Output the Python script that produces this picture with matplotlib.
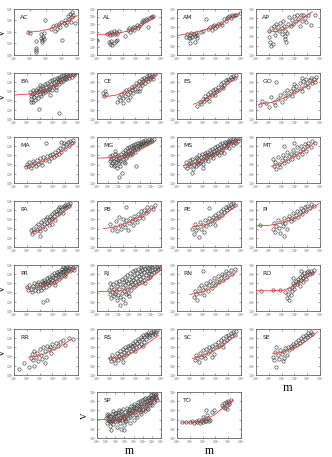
import numpy as np
import matplotlib
matplotlib.use("Agg")
import matplotlib.pyplot as plt
import matplotlib.ticker as mtick

# all values are log10(m), log10(V)
states = ["AC", "AL", "AM", "AP", "BA", "CE", "ES", "GO", "MA", "MG", "MS", "MT",
          "PA", "PB", "PE", "PI", "PR", "RJ", "RN", "RO", "RR", "RS", "SC", "SE",
          "SP", "TO"]

# decades shown on each axis (x, y)
x_decades = {"AL": 5, "AC": 4, "MG": 6, "RJ": 6, "SP": 7}
y_decades = {"AC": 4, "AL": 6}

ac_pts = [(1.0, 1.9), (0.9, 2.0), (1.4, 1.2), (1.4, 0.6), (1.4, 0.3), (1.35, 0.45), (1.7, 1.5), (1.75, 1.3),
          (1.8, 1.6), (1.85, 1.4), (1.7, 1.8), (1.9, 1.9), (1.75, 1.1), (1.95, 3.05), (2.3, 2.3), (2.45, 2.5),
          (2.55, 2.1), (2.6, 2.6), (2.7, 2.3), (2.8, 2.7), (2.9, 2.4), (3.0, 1.3), (3.1, 2.8), (3.2, 3.0),
          (3.3, 2.9), (3.35, 3.4), (3.45, 3.1), (3.5, 3.6), (3.6, 3.3), (3.65, 3.7), (3.7, 3.5), (3.8, 2.8),
          (3.55, 2.9), (3.25, 2.6), (2.95, 2.9)]
ac_fit_m = [0.9, 1.5, 2.2, 2.8, 3.4, 3.95]
ac_fit_v = [2.0, 2.05, 2.25, 2.6, 3.0, 3.42]

al_pts = [(0, 1.9), (0.8, 2.7), (0.9, 2.9), (1.0, 2.6), (1.1, 3.0), (1.2, 2.8), (1.3, 3.1), (1.4, 2.7), (1.5, 3.0),
          (1.6, 2.8), (1.7, 3.1), (0.9, 1.7), (1.0, 1.4), (1.1, 1.8), (1.2, 1.3), (1.3, 1.6), (1.5, 1.8), (1.6, 2.0),
          (2.2, 2.5), (2.4, 3.2), (2.5, 3.5), (2.6, 3.0), (2.7, 3.4), (2.8, 3.7), (2.9, 3.3), (3.0, 3.6), (3.1, 3.9),
          (3.2, 3.5), (3.3, 3.8), (3.4, 4.0), (3.5, 4.3), (3.6, 4.5), (3.7, 4.4), (3.8, 4.7), (3.9, 4.6), (4.0, 3.6),
          (4.1, 4.8), (4.2, 5.0), (4.3, 4.9), (4.4, 5.1)]
al_fit_m = [0, 1.2, 2.5, 3.5, 4.4]
al_fit_v = [2.7, 2.7, 3.15, 3.9, 4.9]

am_pts = [(0.7, 2.0), (0.8, 2.3), (0.9, 1.9), (1.0, 2.2), (1.05, 1.8), (1.1, 2.4), (1.2, 2.0), (1.3, 2.3), (1.4, 2.1),
          (1.5, 2.4), (1.55, 1.9), (1.0, 1.3), (1.4, 1.4), (1.6, 2.2), (1.9, 2.5), (2.0, 2.6), (2.24, 3.9), (2.4, 2.8),
          (2.6, 3.0), (2.7, 2.7), (2.8, 3.1), (2.9, 3.3), (3.0, 2.9), (3.1, 3.2), (3.2, 3.4), (3.4, 3.5), (3.5, 3.3),
          (3.7, 3.9), (3.8, 3.7), (3.9, 4.0), (4.0, 4.1), (4.1, 4.2), (4.2, 4.0), (4.3, 4.3), (4.4, 4.2), (4.5, 4.4),
          (4.6, 4.3), (4.9, 4.6)]
am_fit_m = [0, 1.2, 2.5, 3.8, 4.9]
am_fit_v = [2.1, 2.4, 2.85, 3.7, 4.55]

ap_pts = [(1.0, 2.6), (1.05, 2.0), (1.1, 1.4), (1.2, 1.0), (1.3, 1.2), (1.2, 2.9), (1.4, 3.2), (1.5, 2.7), (1.6, 3.4),
          (1.7, 3.0), (1.8, 2.6), (1.9, 3.5), (2.0, 2.9), (2.1, 3.7), (2.2, 3.2), (2.3, 2.6), (2.25, 1.7), (2.3, 2.1),
          (2.35, 1.4), (2.4, 2.4), (2.5, 3.4), (2.6, 4.1), (2.7, 3.1), (2.8, 3.8), (2.9, 3.4), (3.0, 4.2), (3.1, 3.7),
          (3.2, 4.4), (3.3, 3.9), (3.4, 3.2), (3.5, 4.3), (3.6, 3.7), (3.7, 4.4), (3.8, 4.0), (3.9, 3.6), (4.1, 4.3),
          (4.3, 3.3), (4.6, 4.4), (1.5, 2.2), (2.0, 2.3)]
ap_fit_m = [1.0, 1.8, 2.3, 2.8, 3.3, 3.8, 4.4]
ap_fit_v = [2.5, 2.6, 2.85, 3.2, 3.7, 4.15, 4.7]

ba_pts = [(1.25, 2.9), (1.3, 2.5), (1.35, 2.2), (1.3, 1.9), (1.4, 2.7), (1.5, 3.1), (1.55, 2.4), (1.6, 2.8),
          (1.65, 2.1), (1.7, 3.2), (1.75, 2.6), (1.8, 2.9), (1.85, 3.4), (1.9, 2.3), (1.95, 3.0), (2.0, 2.7),
          (2.05, 3.3), (2.1, 2.5), (2.15, 3.6), (2.2, 3.0), (2.25, 2.8), (2.3, 3.4), (2.35, 3.1), (2.4, 3.8),
          (2.45, 2.9), (2.5, 3.5), (2.55, 3.2), (2.6, 3.9), (2.65, 3.0), (2.7, 3.6), (2.75, 3.3), (2.8, 4.1),
          (2.85, 3.5), (2.9, 3.8), (2.95, 3.2), (3.0, 4.2), (3.05, 3.6), (3.1, 3.9), (3.15, 4.4), (3.2, 3.7),
          (3.25, 4.1), (3.3, 3.5), (3.35, 4.5), (3.4, 4.0), (3.45, 4.3), (3.5, 3.8), (3.55, 4.6), (3.6, 4.2),
          (3.65, 4.0), (3.7, 4.7), (3.75, 4.4), (3.8, 4.1), (3.85, 4.8), (3.9, 4.5), (3.95, 4.3), (4.0, 4.9),
          (4.05, 4.6), (4.1, 4.4), (4.15, 4.85), (4.2, 4.7), (4.3, 4.5), (4.35, 4.95), (4.4, 4.75), (4.5, 4.6),
          (4.6, 4.9), (4.7, 4.8), (4.8, 4.95), (1.95, 1.1), (3.5, 0.7), (2.0, 3.7), (2.8, 2.6), (3.3, 3.2),
          (1.5, 1.8)]
ba_fit_m = [0, 1.5, 2.2, 3.0, 3.8, 4.85]
ba_fit_v = [2.6, 2.75, 3.0, 3.5, 4.15, 5.0]

ce_pts = [(0.5, 2.8), (0.6, 3.0), (0.7, 2.7), (0.55, 2.5), (1.6, 1.9), (1.7, 2.4), (1.8, 2.1), (1.9, 2.7), (2.0, 2.3),
          (2.1, 2.9), (2.2, 2.5), (2.3, 3.1), (2.4, 2.7), (2.5, 3.3), (2.55, 2.9), (2.6, 2.4), (2.7, 3.5), (2.75, 3.1),
          (2.8, 2.8), (2.9, 3.6), (3.0, 3.3), (3.05, 3.9), (3.1, 3.0), (3.2, 3.7), (3.3, 4.1), (3.35, 3.4), (3.4, 3.9),
          (3.5, 4.3), (3.55, 3.7), (3.6, 4.1), (3.7, 4.5), (3.75, 3.9), (3.8, 4.3), (3.9, 4.7), (3.95, 4.1), (4.0, 4.5),
          (4.1, 4.8), (4.15, 4.3), (4.2, 4.6), (4.3, 4.9), (4.4, 4.7), (4.5, 4.85), (2.0, 1.7), (2.4, 2.1), (3.3, 3.0),
          (4.35, 4.4)]
ce_fit_m = [0.5, 1.5, 2.5, 3.5, 4.7]
ce_fit_v = [2.4, 2.6, 3.1, 3.9, 4.9]

es_pts = [(1.6, 1.4), (1.8, 1.9), (1.9, 1.6), (2.0, 2.2), (2.1, 2.0), (2.2, 2.5), (2.3, 2.2), (2.4, 2.7), (2.5, 2.4),
          (2.6, 2.9), (2.7, 2.6), (2.8, 3.1), (2.9, 2.8), (3.0, 3.3), (3.1, 3.0), (3.2, 3.5), (3.3, 3.2), (3.4, 3.8),
          (3.5, 3.5), (3.6, 4.0), (3.7, 3.7), (3.8, 4.2), (3.9, 4.0), (4.0, 4.4), (4.1, 4.2), (4.2, 4.6), (4.3, 4.4),
          (4.4, 4.7), (4.5, 4.5), (4.6, 4.8), (2.5, 2.0), (3.0, 2.6), (3.6, 3.4)]
es_fit_m = [1.3, 2.2, 3.0, 3.8, 4.7]
es_fit_v = [1.6, 2.1, 2.8, 3.6, 4.6]

go_pts = [(0.3, 1.5), (0.5, 2.0), (0.8, 1.7), (1.0, 1.3), (1.2, 2.4), (1.4, 1.9), (1.5, 1.5), (1.6, 4.0), (1.7, 2.2),
          (1.9, 2.6), (2.0, 1.9), (2.2, 2.8), (2.3, 2.3), (2.4, 3.1), (2.5, 2.6), (2.7, 3.0), (2.8, 2.5), (2.9, 3.4),
          (3.0, 2.9), (3.1, 3.6), (3.2, 3.1), (3.4, 3.9), (3.5, 3.4), (3.6, 3.0), (3.7, 4.1), (3.8, 3.7), (3.9, 4.4),
          (4.0, 3.9), (4.1, 3.5), (4.2, 4.2), (4.3, 4.5), (4.4, 3.9), (4.5, 4.3), (4.6, 4.0), (4.7, 4.6), (3.0, 3.8),
          (3.6, 4.5)]
go_fit_m = [0.2, 1.2, 2.2, 3.2, 4.2, 4.8]
go_fit_v = [1.6, 1.8, 2.3, 3.0, 3.8, 4.3]

ma_pts = [(0.9, 1.7), (1.0, 2.1), (1.1, 1.9), (1.2, 2.3), (1.3, 1.6), (1.4, 2.0), (1.5, 2.4), (1.6, 2.2), (1.7, 1.8),
          (1.8, 2.5), (1.9, 2.1), (2.0, 2.7), (2.1, 2.3), (2.2, 2.0), (2.3, 2.8), (2.4, 2.5), (2.5, 4.4), (2.6, 2.9),
          (2.7, 2.4), (2.8, 3.0), (2.9, 2.7), (3.0, 3.2), (3.1, 2.8), (3.2, 3.4), (3.3, 3.0), (3.4, 3.6), (3.5, 3.2),
          (3.6, 3.8), (3.7, 3.4), (3.8, 4.0), (3.9, 4.4), (4.0, 3.7), (4.1, 4.2), (4.2, 4.5), (4.3, 4.0), (4.4, 4.6),
          (4.5, 4.3), (4.6, 4.7), (3.7, 4.5)]
ma_fit_m = [0.8, 1.8, 2.8, 3.8, 4.8]
ma_fit_v = [1.8, 2.1, 2.7, 3.5, 4.4]

mg_pts = [(1.2, 2.9), (1.25, 2.4), (1.3, 2.0), (1.35, 2.6), (1.4, 3.0), (1.45, 2.2), (1.5, 2.7), (1.55, 1.8),
          (1.6, 2.4), (1.65, 3.1), (1.7, 2.0), (1.75, 2.6), (1.8, 2.3), (1.85, 2.9), (1.9, 1.6), (1.95, 2.5),
          (2.0, 3.0), (2.05, 2.2), (2.1, 2.7), (2.15, 1.9), (2.2, 2.4), (2.25, 3.2), (2.3, 2.8), (2.35, 1.1),
          (2.4, 2.6), (2.1, 0.6), (2.45, 3.4), (2.5, 2.9), (2.55, 2.3), (2.6, 3.6), (2.65, 3.1), (2.7, 2.7),
          (2.75, 3.3), (2.8, 3.8), (2.85, 2.9), (2.9, 3.5), (2.95, 3.2), (3.0, 3.9), (3.05, 3.0), (3.1, 3.6),
          (3.15, 3.3), (3.2, 4.0), (3.25, 3.5), (3.3, 3.2), (3.35, 3.8), (3.4, 4.1), (3.45, 3.6), (3.5, 3.9),
          (3.55, 3.4), (3.6, 4.2), (3.65, 3.8), (3.7, 1.8), (3.75, 4.3), (3.8, 4.0), (3.85, 3.7), (3.9, 4.4),
          (3.95, 4.1), (4.0, 3.9), (4.1, 4.5), (4.15, 4.2), (4.2, 4.0), (4.3, 4.6), (4.35, 4.3), (4.4, 4.1),
          (4.5, 4.7), (4.55, 4.4), (4.6, 4.2), (4.7, 4.6), (4.8, 4.4), (4.9, 4.75), (5.0, 4.5), (5.1, 4.7),
          (5.2, 4.6), (5.3, 4.8), (1.7, 3.5), (2.6, 2.2)]
mg_fit_m = [0, 1.2, 2.0, 2.8, 3.6, 4.4, 5.3]
mg_fit_v = [2.7, 2.75, 2.8, 3.05, 3.4, 3.9, 4.5]

ms_pts = [(0.6, 1.9), (0.7, 2.3), (0.8, 1.6), (0.9, 2.1), (1.0, 2.5), (1.05, 1.8), (1.1, 2.2), (1.2, 2.6), (1.25, 1.5),
          (1.3, 2.0), (1.4, 2.4), (1.45, 2.8), (1.5, 1.9), (1.55, 2.3), (1.6, 2.7), (1.65, 2.1), (1.7, 3.0), (1.75, 2.5),
          (1.8, 2.2), (1.85, 2.8), (1.9, 2.4), (1.95, 3.1), (2.0, 2.6), (2.05, 2.1), (2.1, 2.9), (2.15, 3.3), (2.2, 2.5),
          (2.25, 3.0), (2.3, 2.7), (2.35, 3.4), (2.4, 2.9), (2.45, 2.4), (2.5, 3.2), (2.55, 3.6), (2.6, 2.8), (2.65, 3.3),
          (2.7, 3.0), (2.75, 3.7), (2.8, 3.2), (2.85, 2.7), (2.9, 3.5), (2.95, 3.9), (3.0, 3.1), (3.05, 3.6), (3.1, 3.3),
          (3.15, 4.0), (3.2, 3.5), (3.25, 3.0), (3.3, 3.8), (3.35, 4.2), (3.4, 3.4), (3.45, 3.9), (3.5, 3.6), (3.55, 4.3),
          (3.6, 3.8), (3.65, 3.3), (3.7, 4.1), (3.75, 4.5), (3.8, 3.9), (3.85, 4.3), (3.9, 4.0), (3.95, 4.6), (4.0, 4.2),
          (4.05, 3.8), (4.1, 4.5), (4.15, 4.7), (4.2, 4.3), (4.3, 4.6), (4.35, 4.1), (4.4, 4.8), (4.5, 4.5), (4.55, 4.7),
          (4.6, 4.4), (4.7, 4.85), (4.8, 4.6), (4.85, 4.9), (1.2, 1.1), (2.0, 1.6)]
ms_fit_m = [0.5, 1.5, 2.5, 3.5, 4.85]
ms_fit_v = [1.9, 2.2, 2.8, 3.6, 4.8]

mt_pts = [(1.3, 2.6), (1.4, 1.9), (1.5, 2.3), (1.6, 1.5), (1.7, 2.8), (1.8, 2.1), (1.9, 1.7), (2.0, 2.5), (2.1, 3.0),
          (2.2, 2.2), (2.3, 2.7), (2.4, 3.4), (2.5, 2.4), (2.6, 2.9), (2.7, 3.2), (2.8, 2.6), (2.9, 3.6), (3.0, 3.0),
          (3.1, 3.3), (3.2, 3.9), (3.3, 2.8), (3.4, 3.5), (3.5, 4.0), (3.6, 3.2), (3.7, 3.7), (3.8, 4.2), (3.9, 3.5),
          (4.0, 4.0), (4.1, 4.4), (4.3, 3.9), (4.4, 4.6), (4.6, 4.3), (2.2, 4.0), (3.0, 4.3)]
mt_fit_m = [1.2, 2.0, 2.8, 3.6, 4.6]
mt_fit_v = [1.8, 2.1, 2.7, 3.4, 4.4]

pa_pts = [(1.3, 1.8), (1.4, 1.4), (1.5, 2.0), (1.6, 1.6), (1.7, 2.3), (1.8, 1.9), (1.9, 2.5), (2.0, 2.1), (2.05, 1.7),
          (2.1, 2.7), (2.2, 2.3), (2.3, 2.9), (2.35, 2.5), (2.4, 2.0), (2.5, 3.0), (2.55, 2.6), (2.6, 3.3), (2.7, 2.9),
          (2.75, 2.4), (2.8, 3.4), (2.9, 3.0), (2.95, 3.6), (3.0, 3.2), (3.1, 3.8), (3.15, 3.4), (3.2, 2.9), (3.3, 3.9),
          (3.35, 3.6), (3.4, 4.1), (3.5, 3.7), (3.55, 4.3), (3.6, 3.9), (3.7, 4.4), (3.75, 4.1), (3.8, 3.7), (3.9, 4.5),
          (3.95, 4.2), (4.0, 4.6), (4.1, 4.4), (4.2, 4.7), (4.3, 4.5), (4.4, 4.8), (2.0, 1.2), (3.0, 2.5)]
pa_fit_m = [1.3, 2.2, 3.0, 3.8, 4.5]
pa_fit_v = [1.5, 2.0, 2.8, 3.7, 4.5]

pb_pts = [(1.0, 2.5), (1.2, 1.9), (1.4, 2.2), (1.5, 2.8), (1.6, 1.7), (1.8, 2.4), (1.9, 2.0), (2.0, 3.0), (2.1, 2.5),
          (2.2, 2.2), (2.3, 2.9), (2.4, 1.9), (2.5, 2.6), (2.6, 3.2), (2.7, 2.8), (2.8, 2.4), (2.9, 3.4), (3.0, 3.0),
          (3.1, 2.7), (3.2, 3.6), (3.3, 3.2), (3.4, 3.9), (3.5, 3.5), (3.6, 3.1), (3.7, 4.0), (3.8, 3.7), (3.9, 4.3),
          (4.0, 3.9), (4.2, 4.4), (4.4, 4.1), (4.5, 4.6), (2.3, 4.3), (1.7, 3.3)]
pb_fit_m = [0.5, 1.5, 2.5, 3.5, 4.5]
pb_fit_v = [2.0, 2.2, 2.7, 3.4, 4.3]

pe_pts = [(1.2, 2.0), (1.3, 1.4), (1.4, 2.5), (1.5, 1.8), (1.6, 2.2), (1.7, 1.1), (1.8, 2.7), (1.9, 2.0), (2.0, 2.4),
          (2.1, 1.6), (2.2, 2.9), (2.3, 2.3), (2.4, 2.7), (2.5, 3.1), (2.6, 2.5), (2.7, 2.9), (2.8, 3.3), (2.9, 2.8),
          (3.0, 3.5), (3.1, 3.1), (3.2, 3.7), (3.3, 3.3), (3.4, 3.9), (3.5, 3.5), (3.6, 4.1), (3.7, 3.8), (3.8, 4.3),
          (3.9, 4.0), (4.0, 4.5), (4.1, 4.2), (4.2, 4.7), (4.3, 4.4), (4.4, 4.8), (4.5, 4.6), (2.5, 4.2), (3.0, 2.4)]
pe_fit_m = [1.2, 2.2, 3.0, 3.8, 4.6]
pe_fit_v = [2.2, 2.4, 2.9, 3.6, 4.5]

pi_pts = [(0.3, 2.4), (1.3, 2.0), (1.4, 2.6), (1.5, 1.6), (1.6, 2.3), (1.7, 2.9), (1.8, 2.1), (1.9, 1.5), (2.0, 2.7),
          (2.1, 2.3), (2.2, 3.1), (2.3, 2.6), (2.4, 2.0), (2.5, 3.0), (2.6, 3.4), (2.7, 2.8), (2.8, 3.2), (2.9, 3.7),
          (3.0, 3.0), (3.1, 3.5), (3.2, 3.9), (3.3, 3.3), (3.4, 3.8), (3.5, 4.2), (3.6, 3.6), (3.7, 4.0), (3.8, 4.4),
          (3.9, 3.9), (4.0, 4.5), (4.2, 4.2), (4.3, 4.7), (4.5, 4.5), (2.2, 1.2)]
pi_fit_m = [0, 1.0, 2.0, 3.0, 4.0, 4.9]
pi_fit_v = [2.3, 2.35, 2.6, 3.1, 3.9, 4.7]

pr_pts = [(1.0, 2.6), (1.1, 2.3), (1.2, 2.8), (1.3, 2.4), (1.4, 2.1), (1.5, 2.7), (1.6, 3.0), (1.65, 2.3), (1.7, 2.6),
          (1.8, 2.9), (1.85, 2.2), (1.9, 3.2), (2.0, 2.6), (2.05, 2.9), (2.1, 2.3), (2.15, 3.3), (2.2, 2.8), (2.25, 3.0),
          (2.3, 2.5), (2.35, 3.4), (2.4, 2.9), (2.45, 3.1), (2.5, 2.6), (2.55, 3.6), (2.6, 3.0), (2.65, 3.3), (2.7, 2.8),
          (2.75, 3.7), (2.8, 3.2), (2.85, 3.5), (2.9, 3.0), (2.95, 3.9), (3.0, 3.4), (3.05, 3.7), (3.1, 3.1), (3.15, 4.1),
          (3.2, 3.6), (3.25, 3.9), (3.3, 3.3), (3.35, 4.2), (3.4, 3.8), (3.45, 4.0), (3.5, 3.5), (3.55, 4.4), (3.6, 4.0),
          (3.65, 4.2), (3.7, 3.7), (3.75, 4.6), (3.8, 4.2), (3.85, 4.4), (3.9, 3.9), (3.95, 4.7), (4.0, 4.3), (4.05, 4.6),
          (4.1, 4.1), (4.15, 4.8), (4.2, 4.5), (4.3, 4.7), (4.35, 4.3), (4.4, 4.9), (4.5, 4.6), (4.6, 4.8), (4.7, 4.5),
          (4.8, 4.9), (2.25, 1.0), (2.6, 1.2), (3.2, 2.8), (4.0, 3.8), (3.8, 4.8)]
pr_fit_m = [1.0, 2.0, 2.8, 3.6, 4.3, 4.8]
pr_fit_v = [2.5, 2.55, 2.9, 3.5, 4.2, 4.65]

rj_pts = [(1.1, 2.3), (1.2, 1.8), (1.3, 2.6), (1.35, 1.4), (1.4, 2.1), (1.5, 2.9), (1.55, 1.6), (1.6, 2.4), (1.7, 1.9),
          (1.75, 3.1), (1.8, 2.2), (1.85, 1.2), (1.9, 2.7), (2.0, 1.7), (2.05, 3.3), (2.1, 2.4), (2.15, 1.5), (2.2, 2.9),
          (2.3, 2.0), (2.35, 3.5), (2.4, 2.6), (2.45, 1.3), (2.5, 3.1), (2.55, 2.2), (2.6, 3.7), (2.65, 2.8), (2.7, 1.8),
          (2.75, 3.3), (2.8, 2.4), (2.85, 3.9), (2.9, 3.0), (2.95, 2.0), (3.0, 3.5), (3.05, 2.7), (3.1, 4.1), (3.15, 3.2),
          (3.2, 2.3), (3.25, 3.7), (3.3, 2.9), (3.35, 4.3), (3.4, 3.4), (3.45, 2.6), (3.5, 3.9), (3.55, 3.1), (3.6, 4.5),
          (3.65, 3.6), (3.7, 2.8), (3.75, 4.1), (3.8, 3.3), (3.85, 4.6), (3.9, 3.8), (3.95, 3.0), (4.0, 4.3), (4.05, 3.5),
          (4.1, 4.8), (4.15, 4.0), (4.2, 3.2), (4.25, 4.5), (4.3, 3.7), (4.35, 4.9), (4.4, 4.2), (4.45, 3.4), (4.5, 4.6),
          (4.6, 3.9), (4.65, 4.8), (4.7, 4.3), (4.75, 3.6), (4.8, 4.7), (4.9, 4.1), (4.95, 4.85), (5.0, 4.4), (5.1, 4.0),
          (5.15, 4.8), (5.2, 4.5), (5.3, 4.2), (5.35, 4.9), (5.4, 4.6), (5.5, 4.4), (5.6, 4.8), (5.7, 4.6), (5.8, 4.9),
          (5.9, 4.7), (1.2, 3.0), (2.2, 0.7), (2.6, 0.9), (3.0, 1.6), (4.5, 3.0), (5.0, 3.7)]
rj_fit_m = [0, 1.2, 2.3, 3.0, 3.9, 4.8, 6.0]
rj_fit_v = [2.1, 2.15, 2.2, 2.45, 2.8, 3.4, 4.45]

rn_pts = [(1.3, 1.5), (1.4, 2.2), (1.5, 1.8), (1.6, 1.2), (1.7, 2.5), (1.8, 2.0), (1.9, 2.8), (2.0, 2.3), (2.1, 1.7),
          (2.2, 2.6), (2.3, 3.0), (2.4, 2.2), (2.5, 2.8), (2.6, 3.3), (2.7, 2.5), (2.8, 3.0), (2.9, 3.6), (3.0, 2.8),
          (3.1, 3.3), (3.2, 3.8), (3.3, 3.1), (3.4, 3.6), (3.5, 4.0), (3.6, 3.4), (3.7, 3.9), (3.8, 4.3), (3.9, 3.7),
          (4.0, 4.1), (4.2, 4.5), (4.3, 4.0), (4.5, 4.6), (2.0, 4.3)]
rn_fit_m = [1.0, 2.0, 3.0, 4.0, 4.7]
rn_fit_v = [1.8, 2.1, 2.7, 3.6, 4.3]

ro_pts = [(0.4, 2.2), (1.3, 2.25), (1.9, 2.3), (2.3, 2.1), (2.4, 1.4), (2.5, 1.9), (2.6, 1.2), (2.55, 2.4), (2.7, 1.7),
          (2.8, 2.6), (2.85, 2.2), (2.9, 3.0), (3.0, 2.4), (3.0, 2.8), (3.1, 3.3), (3.2, 2.9), (3.25, 3.5), (3.3, 3.1),
          (3.4, 3.7), (3.4, 2.7), (3.5, 3.4), (3.6, 3.9), (3.65, 3.2), (3.7, 3.6), (3.75, 4.1), (3.8, 3.8), (3.9, 3.5),
          (3.95, 4.2), (4.0, 3.9), (4.1, 4.3), (4.2, 4.0), (4.3, 4.4), (4.4, 4.1), (4.5, 4.5), (3.5, 4.4), (2.9, 3.6)]
ro_fit_m = [0, 1.0, 2.1, 2.8, 3.5, 4.1, 4.6]
ro_fit_v = [2.2, 2.2, 2.25, 2.6, 3.2, 3.8, 4.2]

rr_pts = [(0.4, 0.6), (0.8, 1.3), (1.2, 0.9), (1.3, 1.9), (1.4, 2.3), (1.5, 1.6), (1.6, 2.6), (1.7, 2.0), (1.8, 2.4),
          (1.9, 1.5), (2.0, 2.8), (2.1, 2.2), (2.2, 1.7), (2.3, 3.0), (2.4, 2.6), (2.5, 2.0), (2.6, 3.2), (2.7, 2.8),
          (2.8, 3.0), (2.9, 2.4), (3.0, 3.4), (3.1, 2.9), (3.3, 3.5), (3.4, 3.1), (3.6, 3.6), (3.8, 3.8), (4.0, 3.3),
          (4.3, 4.0), (4.6, 3.9), (1.6, 1.0), (2.4, 1.3)]
rr_fit_m = [1.1, 1.8, 2.4, 3.0, 3.6, 4.5]
rr_fit_v = [1.95, 2.05, 2.3, 2.7, 3.1, 3.9]

rs_pts = [(1.0, 1.9), (1.1, 1.5), (1.2, 2.2), (1.3, 1.7), (1.4, 1.3), (1.5, 2.0), (1.6, 2.4), (1.65, 1.6), (1.7, 2.1),
          (1.8, 2.6), (1.85, 1.8), (1.9, 2.3), (2.0, 2.8), (2.05, 2.0), (2.1, 2.5), (2.2, 3.0), (2.25, 2.2), (2.3, 2.7),
          (2.4, 3.1), (2.45, 2.4), (2.5, 2.9), (2.6, 3.3), (2.65, 2.6), (2.7, 3.1), (2.8, 3.5), (2.85, 2.8), (2.9, 3.3),
          (3.0, 3.7), (3.05, 3.0), (3.1, 3.5), (3.2, 3.9), (3.25, 3.2), (3.3, 3.7), (3.4, 4.1), (3.45, 3.4), (3.5, 3.9),
          (3.6, 4.3), (3.65, 3.6), (3.7, 4.1), (3.8, 4.5), (3.85, 3.9), (3.9, 4.3), (4.0, 4.6), (4.05, 4.1), (4.1, 4.4),
          (4.2, 4.7), (4.3, 4.3), (4.35, 4.6), (4.4, 4.8), (4.5, 4.5), (4.6, 4.7), (4.7, 4.9), (2.0, 1.4), (3.0, 2.6),
          (3.6, 3.1)]
rs_fit_m = [0.9, 1.8, 2.6, 3.4, 4.2, 4.8]
rs_fit_v = [1.8, 1.9, 2.3, 2.9, 3.7, 4.3]

sc_pts = [(1.4, 1.6), (1.5, 2.2), (1.6, 1.9), (1.7, 1.4), (1.8, 2.4), (1.9, 2.0), (2.0, 2.7), (2.1, 2.2), (2.2, 1.8),
          (2.3, 2.8), (2.4, 2.4), (2.5, 3.0), (2.6, 2.6), (2.7, 3.2), (2.8, 2.8), (2.9, 2.3), (3.0, 3.4), (3.1, 3.0),
          (3.2, 3.6), (3.3, 3.2), (3.4, 3.8), (3.5, 3.4), (3.6, 4.0), (3.7, 3.6), (3.8, 4.2), (3.9, 3.8), (4.0, 4.4),
          (4.1, 4.0), (4.2, 4.6), (4.3, 4.2), (4.4, 4.7), (4.5, 4.4), (4.6, 4.8), (2.7, 2.0), (3.6, 3.0)]
sc_fit_m = [1.2, 2.0, 2.8, 3.6, 4.6]
sc_fit_v = [1.8, 2.1, 2.6, 3.3, 4.3]

se_pts = [(1.3, 2.0), (1.4, 1.6), (1.5, 2.5), (1.6, 0.9), (1.7, 2.2), (1.8, 1.7), (1.9, 2.7), (2.0, 2.3), (2.1, 1.5),
          (2.2, 2.6), (2.3, 2.9), (2.4, 2.2), (2.5, 3.0), (2.6, 2.7), (2.7, 3.2), (2.8, 2.9), (2.9, 3.4), (3.0, 3.1),
          (3.1, 3.6), (3.2, 3.3), (3.3, 3.8), (3.4, 3.5), (3.5, 4.0), (3.6, 3.7), (3.7, 4.2), (3.8, 3.9), (3.9, 4.4),
          (4.0, 4.1), (4.1, 4.6), (4.2, 4.3), (4.3, 4.7), (4.4, 4.5), (2.2, 1.9), (1.6, 3.0)]
se_fit_m = [1.3, 2.0, 2.8, 3.6, 4.3, 4.8]
se_fit_v = [2.35, 2.45, 2.8, 3.4, 4.1, 4.7]

sp_pts = [(1.0, 2.2), (1.1, 1.6), (1.2, 2.6), (1.3, 1.9), (1.4, 1.3), (1.5, 2.4), (1.6, 2.0), (1.7, 2.9), (1.8, 1.5),
          (1.9, 2.3), (2.0, 1.8), (2.1, 2.7), (2.2, 1.2), (2.3, 2.1), (2.4, 3.0), (2.5, 1.6), (2.6, 2.5), (2.7, 2.0),
          (2.8, 3.1), (2.9, 1.4), (3.0, 2.3), (3.1, 2.8), (3.2, 1.8), (3.3, 3.3), (3.4, 2.2), (3.5, 2.7), (3.6, 1.6),
          (3.7, 3.5), (3.8, 2.5), (3.9, 3.0), (4.0, 2.0), (4.1, 3.7), (4.2, 2.8), (4.3, 3.3), (4.4, 2.3), (4.5, 3.9),
          (4.6, 3.0), (4.7, 3.5), (4.8, 2.6), (4.9, 4.1), (5.0, 3.2), (5.1, 3.7), (5.2, 2.9), (5.3, 4.3), (5.4, 3.5),
          (5.5, 4.0), (5.6, 3.2), (5.7, 4.5), (5.8, 3.8), (5.9, 4.3), (6.0, 3.6), (6.1, 4.6), (6.2, 4.1), (6.3, 4.7),
          (6.4, 4.3), (6.5, 4.8), (1.05, 2.5), (1.25, 2.2), (1.45, 1.9), (1.65, 2.6), (1.85, 2.1), (2.05, 2.4),
          (2.25, 2.8), (2.45, 2.0), (2.65, 2.9), (2.85, 2.4), (3.05, 1.9), (3.25, 2.6), (3.45, 3.0), (3.65, 2.3),
          (3.85, 2.9), (4.05, 3.3), (4.25, 2.5), (4.45, 3.5), (4.65, 2.8), (4.85, 3.7), (5.05, 3.0), (5.25, 3.9),
          (5.45, 3.3), (5.65, 4.1), (5.85, 3.6), (6.05, 4.4), (6.25, 3.9), (6.45, 4.5), (6.55, 4.1), (1.15, 2.0),
          (1.35, 2.4), (1.55, 1.7), (1.75, 2.2), (1.95, 2.7), (2.15, 1.9), (2.35, 2.5), (2.55, 2.2), (2.75, 2.6),
          (2.95, 2.1), (3.15, 2.4), (3.35, 2.8), (3.55, 3.1), (3.75, 2.7), (3.95, 3.5), (4.15, 3.0), (4.35, 3.6),
          (4.55, 3.2), (4.75, 4.0), (4.95, 3.5), (5.15, 4.2), (5.35, 3.7), (5.55, 4.4), (5.75, 3.9), (5.95, 4.7),
          (6.15, 4.3), (6.35, 4.9), (5.9, 4.95), (2.6, 1.0), (3.0, 0.9), (1.5, 0.9)]
sp_fit_m = [0, 1.2, 2.4, 3.2, 4.2, 5.2, 6.6]
sp_fit_v = [2.0, 2.0, 2.05, 2.3, 2.75, 3.4, 4.3]

to_pts = [(0.4, 1.7), (0.7, 1.7), (1.0, 1.75), (1.2, 1.8), (1.3, 1.6), (1.5, 1.9), (1.6, 1.7), (1.7, 2.0), (1.8, 1.6),
          (1.9, 1.9), (2.0, 2.3), (2.05, 1.7), (2.1, 2.1), (2.2, 1.9), (2.25, 3.0), (2.3, 1.8), (2.4, 2.2), (2.5, 1.9),
          (2.6, 2.0), (2.7, 2.8), (2.9, 3.0), (3.5, 3.6), (3.6, 3.4), (3.7, 3.8), (3.75, 3.3), (3.8, 3.9), (3.9, 3.6),
          (4.0, 4.0), (4.05, 3.7), (4.1, 3.9), (4.2, 4.1), (3.9, 3.2), (2.35, 2.5)]
to_fit_m = [0.4, 1.2, 1.8, 2.4, 3.0, 3.6, 4.35]
to_fit_v = [1.7, 1.75, 1.85, 2.1, 2.6, 3.3, 4.1]

panel_data = {
    "AC": (ac_pts, ac_fit_m, ac_fit_v), "AL": (al_pts, al_fit_m, al_fit_v), "AM": (am_pts, am_fit_m, am_fit_v),
    "AP": (ap_pts, ap_fit_m, ap_fit_v), "BA": (ba_pts, ba_fit_m, ba_fit_v), "CE": (ce_pts, ce_fit_m, ce_fit_v),
    "ES": (es_pts, es_fit_m, es_fit_v), "GO": (go_pts, go_fit_m, go_fit_v), "MA": (ma_pts, ma_fit_m, ma_fit_v),
    "MG": (mg_pts, mg_fit_m, mg_fit_v), "MS": (ms_pts, ms_fit_m, ms_fit_v), "MT": (mt_pts, mt_fit_m, mt_fit_v),
    "PA": (pa_pts, pa_fit_m, pa_fit_v), "PB": (pb_pts, pb_fit_m, pb_fit_v), "PE": (pe_pts, pe_fit_m, pe_fit_v),
    "PI": (pi_pts, pi_fit_m, pi_fit_v), "PR": (pr_pts, pr_fit_m, pr_fit_v), "RJ": (rj_pts, rj_fit_m, rj_fit_v),
    "RN": (rn_pts, rn_fit_m, rn_fit_v), "RO": (ro_pts, ro_fit_m, ro_fit_v), "RR": (rr_pts, rr_fit_m, rr_fit_v),
    "RS": (rs_pts, rs_fit_m, rs_fit_v), "SC": (sc_pts, sc_fit_m, sc_fit_v), "SE": (se_pts, se_fit_m, se_fit_v),
    "SP": (sp_pts, sp_fit_m, sp_fit_v), "TO": (to_pts, to_fit_m, to_fit_v),
}

W, H = 332, 457
fig = plt.figure(figsize=(W / 100, H / 100), dpi=100)

col_left = [14, 97, 177, 256]
row_top = [9, 73, 137, 201, 265, 329, 392]
pw, ph = 64, 46

fmt = mtick.FuncFormatter(lambda v, p: r"$10^{%d}$" % round(np.log10(v)))

for i, st in enumerate(states):
    if st == "SP":
        r, c = 6, 1
    elif st == "TO":
        r, c = 6, 2
    else:
        r, c = divmod(i, 4)
    ax = fig.add_axes([col_left[c] / W, 1 - (row_top[r] + ph) / H, pw / W, ph / H])
    pts, fm, fv = panel_data[st]
    pts = np.array(pts)
    nx = x_decades.get(st, 5)
    ny = y_decades.get(st, 5)
    ax.plot(10 ** pts[:, 0], 10 ** pts[:, 1], "o", ms=2.4, mfc="none", mec="#3a3a3a", mew=0.45)
    ax.plot(10 ** np.array(fm), 10 ** np.array(fv), "-", color="#ee3b3b", lw=0.6)
    ax.set_xscale("log")
    ax.set_yscale("log")
    ax.set_xlim(1, 10 ** nx)
    ax.set_ylim(1, 10 ** ny)
    ax.set_xticks([10 ** k for k in range(nx + 1)])
    ax.set_yticks([10 ** k for k in range(ny + 1)])
    ax.xaxis.set_major_formatter(fmt)
    ax.yaxis.set_major_formatter(fmt)
    ax.minorticks_off()
    ax.tick_params(labelsize=2.3, length=1.5, width=0.4, direction="in", top=True, right=True,
                   pad=0.6, colors="#555555")
    for s in ax.spines.values():
        s.set_linewidth(0.6)
        s.set_color("#666666")
    ax.text(0.1, 0.88, st, transform=ax.transAxes, fontsize=4.5, va="top", ha="left", color="#222222")

serif = ["Liberation Serif", "DejaVu Serif"]
for top in [row_top[0], row_top[1], row_top[4], row_top[5]]:
    fig.text(2.5 / W, 1 - (top + 24) / H, "V", rotation=90, fontsize=6.5, family=serif, ha="center", va="center")
fig.text(85 / W, 1 - (row_top[6] + 24) / H, "V", rotation=90, fontsize=6.5, family=serif, ha="center", va="center")

fig.text((col_left[3] + pw / 2) / W, 1 - 388 / H, "m", fontsize=9, family=serif, ha="center", va="center")
fig.text((col_left[1] + pw / 2) / W, 0.5 / H, "m", fontsize=8.5, family=serif, ha="center", va="bottom")
fig.text((col_left[2] + pw / 2) / W, 0.5 / H, "m", fontsize=8.5, family=serif, ha="center", va="bottom")

fig.savefig("out.png", dpi=100)
